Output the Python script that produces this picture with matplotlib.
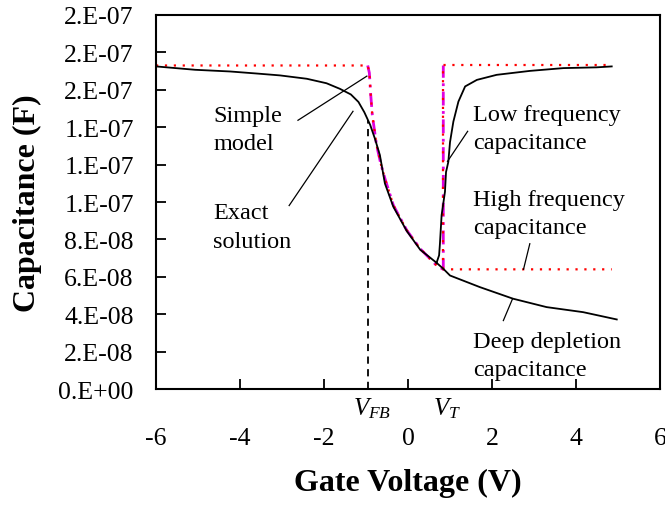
import numpy as np
import matplotlib
matplotlib.use("Agg")
import matplotlib.pyplot as plt

# =========================
# 1. DATA
# =========================
c_ox = 1.73e-7        # oxide capacitance (F)
c_min = 6.4e-8        # minimum high frequency capacitance (F)
v_fb = -0.96          # flatband voltage (V)
v_t = 0.84            # threshold voltage (V)
v_end = 4.85

# simple model, depletion region between V_FB and V_T
simple_dep_v = [-0.92, -0.89, -0.85, -0.75, -0.65, -0.55, -0.35, -0.03, 0.29, 0.68]
simple_dep_c = [1.69e-7, 1.58e-7, 1.465e-7, 1.305e-7, 1.206e-7, 1.126e-7,
                9.83e-8, 8.49e-8, 7.50e-8, 6.61e-8]

# exact solution, accumulation + depletion (shared by all branches)
exact_v = [-6.0, -5.07, -4.24, -3.6, -3.05, -2.41, -1.94, -1.62, -1.36, -1.18,
           -1.04, -0.90, -0.79, -0.67, -0.55, -0.35, -0.03, 0.29, 0.68]
exact_c = [1.725e-7, 1.707e-7, 1.698e-7, 1.687e-7, 1.677e-7, 1.659e-7, 1.635e-7,
           1.605e-7, 1.575e-7, 1.535e-7, 1.48e-7, 1.412e-7, 1.34e-7, 1.251e-7,
           1.099e-7, 9.75e-8, 8.45e-8, 7.45e-8, 6.75e-8]

# exact low frequency branch (inversion)
lf_v = [0.74, 0.76, 0.80, 0.88, 0.905, 0.96, 1.0, 1.08, 1.2, 1.36, 1.64, 2.11,
        2.9, 3.7, 4.49, 4.85]
lf_c = [7.15e-8, 7.77e-8, 9.3e-8, 1.055e-7, 1.16e-7, 1.215e-7, 1.32e-7, 1.43e-7,
        1.537e-7, 1.618e-7, 1.653e-7, 1.68e-7, 1.701e-7, 1.716e-7, 1.72e-7, 1.725e-7]

# exact deep depletion branch
dd_v = [0.84, 1.0, 1.71, 2.5, 3.3, 4.17, 4.97]
dd_c = [6.43e-8, 6.07e-8, 5.45e-8, 4.83e-8, 4.38e-8, 4.11e-8, 3.72e-8]

y_ticks = [0, 2e-8, 4e-8, 6e-8, 8e-8, 1e-7, 1.2e-7, 1.4e-7, 1.6e-7, 1.8e-7, 2e-7]
y_tick_labels = ["0.E+00", "2.E-08", "4.E-08", "6.E-08", "8.E-08", "1.E-07",
                 "1.E-07", "1.E-07", "2.E-07", "2.E-07", "2.E-07"]
x_ticks = [-6, -4, -2, 0, 2, 4, 6]

# =========================
# 2. FIGURE
# =========================
plt.rcParams["font.family"] = ["Liberation Serif", "DejaVu Serif"]
plt.rcParams["mathtext.fontset"] = "custom"
plt.rcParams["mathtext.rm"] = "Liberation Serif"
plt.rcParams["mathtext.it"] = "Liberation Serif:italic"

fig = plt.figure(figsize=(6.65, 5.06), dpi=100)
ax = fig.add_axes([0.2346, 0.2292, 0.7579, 0.7392])

# simple model paths
lf_simple_v = [-6.0, v_fb] + simple_dep_v + [v_t, v_t, v_end]
lf_simple_c = [c_ox, c_ox] + simple_dep_c + [c_min, c_ox, c_ox]
hf_simple_v = [-6.0, v_fb] + simple_dep_v + [v_t, v_end]
hf_simple_c = [c_ox, c_ox] + simple_dep_c + [c_min, c_min]

dots = (0, (1, 3.0))
ax.plot(lf_simple_v[1:-1], lf_simple_c[1:-1], color="#e000e0", lw=2.0,
        linestyle=(0, (5, 2, 1, 2)))
ax.plot(hf_simple_v, hf_simple_c, color="red", lw=1.6, linestyle=dots)
ax.plot([v_t, v_t, v_end], [c_min, c_ox, c_ox], color="red", lw=1.6, linestyle=dots)

# exact curves
ax.plot(exact_v, exact_c, color="black", lw=1.3)
ax.plot([exact_v[-1]] + lf_v, [exact_c[-1]] + lf_c, color="black", lw=1.3)
ax.plot([exact_v[-1]] + dd_v, [exact_c[-1]] + dd_c, color="black", lw=1.3)

# flatband marker
fb_top = np.interp(v_fb, exact_v, exact_c)
ax.plot([v_fb, v_fb], [0, fb_top], color="black", lw=1.3, linestyle=(0, (4, 3)))

# =========================
# 3. LABELS
# =========================
txt = dict(fontsize=17.5, linespacing=1.45, va="center", ha="left")
ax.text(-4.64, 1.389e-7, "Simple\nmodel", **txt)
ax.text(-4.64, 8.66e-8, "Exact\nsolution", **txt)
ax.text(1.55, 1.391e-7, "Low frequency\ncapacitance", **txt)
ax.text(1.55, 9.38e-8, "High frequency\ncapacitance", **txt)
ax.text(1.55, 1.80e-8, "Deep depletion\ncapacitance", **txt)

pointers = [
    ([-2.62, -0.98], [1.437e-7, 1.673e-7]),
    ([-2.83, -1.31], [9.81e-8, 1.485e-7]),
    ([1.42, 0.94], [1.378e-7, 1.217e-7]),
    ([2.90, 2.75], [7.77e-8, 6.40e-8]),
    ([2.27, 2.49], [3.66e-8, 4.83e-8]),
]
for px, py in pointers:
    ax.plot(px, py, color="black", lw=0.9)

trans = ax.get_xaxis_transform()
ax.text(v_fb + 0.1, -0.05, r"$V_{FB}$", transform=trans, fontsize=18,
        ha="center", va="center")
ax.text(v_t + 0.1, -0.05, r"$V_T$", transform=trans, fontsize=18,
        ha="center", va="center")

ax.set_xlim(-6, 6)
ax.set_ylim(0, 2e-7)
ax.set_xticks(x_ticks)
ax.set_xticklabels([str(t) for t in x_ticks])
ax.set_yticks(y_ticks)
ax.set_yticklabels(y_tick_labels)
ax.tick_params(axis="x", direction="in", length=7, width=1.3, pad=27, labelsize=18.5)
ax.tick_params(axis="y", direction="in", length=7, width=1.3, pad=16, labelsize=18.5)
for s in ax.spines.values():
    s.set_linewidth(1.5)

ax.set_xlabel("Gate Voltage (V)", fontsize=23, fontweight="bold", labelpad=14)
ax.set_ylabel("Capacitance (F)", fontsize=23, fontweight="bold", labelpad=12)

fig.savefig("out.png", dpi=100)
